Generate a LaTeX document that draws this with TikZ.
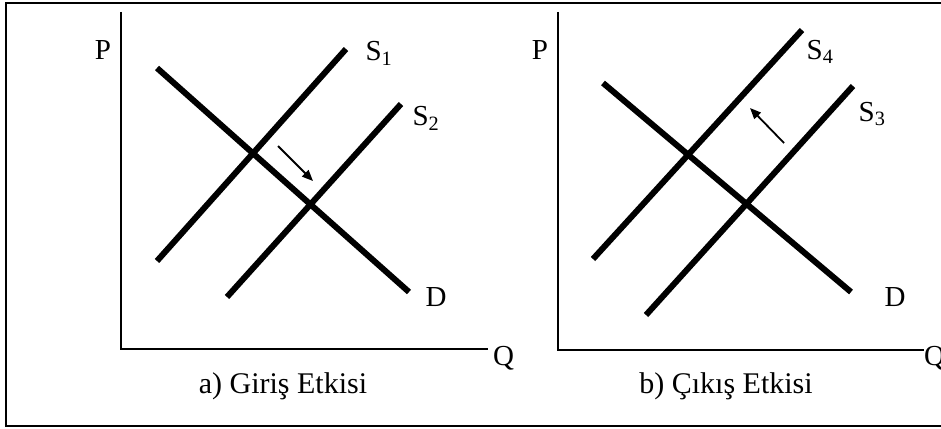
\documentclass[tikz,border=0pt]{standalone}
\usepackage{fontspec}
\setmainfont{Liberation Serif}
\usetikzlibrary{arrows.meta}
\begin{document}
\begin{tikzpicture}[x=1pt,y=-1pt,
  curve/.style={line width=6pt},
  axis/.style={line width=2.4pt},
  shiftarrow/.style={line width=1.8pt,-{Triangle[length=11pt,width=9pt]}},
  lbl/.style={font=\fontsize{29}{31}\selectfont,inner sep=0pt},
  captext/.style={font=\fontsize{30}{32}\selectfont,inner sep=0pt}]
\useasboundingbox (0,0) rectangle (941,428);
% frame
\coordinate (fTR) at (945,3);
\coordinate (fTL) at (5.5,3);
\coordinate (fBL) at (5.5,425.5);
\coordinate (fBR) at (945,425.5);
\draw[line width=2pt] (fTR) -- (fTL) -- (fBL) -- (fBR);
% ---------- left panel ----------
\coordinate (aTop) at (121,12);
\coordinate (aO) at (121,349);
\coordinate (aEnd) at (488,349);
\draw[axis] (aTop) -- (aO) -- (aEnd);
\node[lbl] (aP) at (103,50) {P};
\node[lbl,anchor=west] (aQ) at (493,358) {Q};
\coordinate (aD1) at (157,68);
\coordinate (aD2) at (409,292);
\coordinate (aS1a) at (157,261);
\coordinate (aS1b) at (346,49);
\coordinate (aS2a) at (227,297);
\coordinate (aS2b) at (401,104);
\draw[curve] (aD1) -- (aD2);
\draw[curve] (aS1a) -- (aS1b);
\draw[curve] (aS2a) -- (aS2b);
\node[lbl] (aS1l) at (379,53) {S\textsubscript{1}};
\node[lbl] (aS2l) at (426,118) {S\textsubscript{2}};
\node[lbl] (aDl) at (436,297) {D};
\coordinate (aArr1) at (278,146);
\coordinate (aArr2) at (313,181);
\draw[shiftarrow] (aArr1) -- (aArr2);
\node[captext] (aCap) at (283,386) {a) Giriş Etkisi};
% ---------- right panel ----------
\coordinate (bTop) at (558,12);
\coordinate (bO) at (558,350);
\coordinate (bEnd) at (924,350);
\draw[axis] (bTop) -- (bO) -- (bEnd);
\node[lbl] (bP) at (540,50) {P};
\node[lbl,anchor=west] (bQ) at (924,358) {Q};
\coordinate (bD1) at (603,83);
\coordinate (bD2) at (851,292);
\coordinate (bS4a) at (593,259);
\coordinate (bS4b) at (802,30);
\coordinate (bS3a) at (646,315);
\coordinate (bS3b) at (853,86);
\draw[curve] (bD1) -- (bD2);
\draw[curve] (bS4a) -- (bS4b);
\draw[curve] (bS3a) -- (bS3b);
\node[lbl] (bS4l) at (820,52) {S\textsubscript{4}};
\node[lbl] (bS3l) at (872,114) {S\textsubscript{3}};
\node[lbl] (bDl) at (895,297) {D};
\coordinate (bArr1) at (784,143);
\coordinate (bArr2) at (750,108);
\draw[shiftarrow] (bArr1) -- (bArr2);
\node[captext] (bCap) at (726,386) {b) Çıkış Etkisi};
\end{tikzpicture}
\end{document}
